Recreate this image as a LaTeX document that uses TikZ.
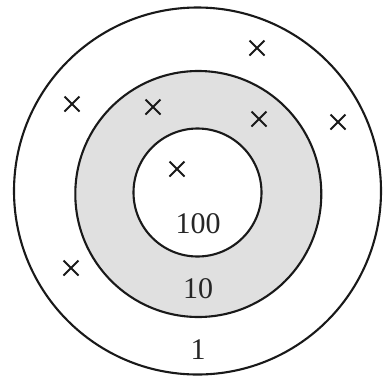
\documentclass[tikz,border=0pt]{standalone}
\usepackage{fontspec}
\setmainfont{Liberation Serif}
\begin{document}
\begin{tikzpicture}[x=1pt,y=-1pt,
  ring/.style={line width=2.1pt,draw=black!90},
  lbl/.style={font=\fontsize{30}{30}\selectfont,text=black!85,inner sep=0pt},
  cross/.style={line width=1.9pt,draw=black!90}]
\useasboundingbox (0,0) rectangle (383,381);
\fill[white] (0,0) rectangle (383,381);
\draw[ring] (197.5,191) circle[radius=183.5];
\draw[ring,fill=black!12] (198.3,194) circle[radius=123];
\draw[ring,fill=white] (197.5,192.5) circle[radius=64];
\node[lbl] (l100) at (198,224) {100};
\node[lbl] (l10) at (198,289) {10};
\node[lbl] (l1) at (198,350) {1};
\foreach \n/\x/\y in {a/257/48, b/72/104, c/153/107, d/259/119, e/338/122, f/177/169, g/71/268}{
  \coordinate (\n) at (\x,\y);
  \draw[cross] ([shift={(-7.5,-7.5)}]\n) -- ([shift={(7.5,7.5)}]\n)
               ([shift={(-7.5,7.5)}]\n) -- ([shift={(7.5,-7.5)}]\n);
}
\end{tikzpicture}
\end{document}
